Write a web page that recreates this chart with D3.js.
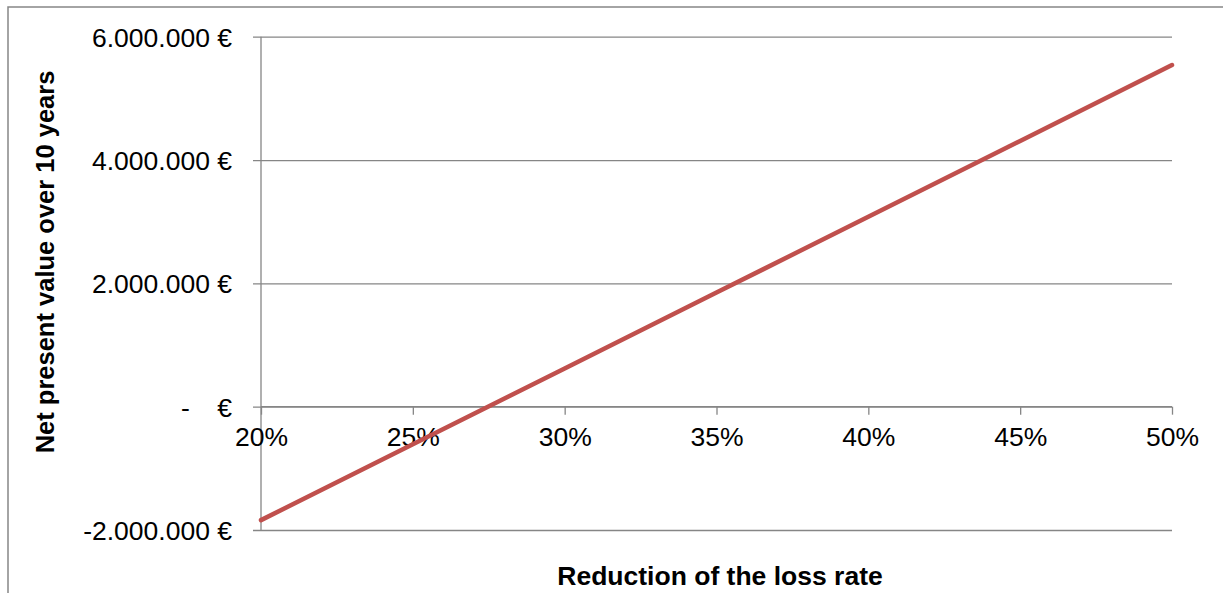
<!DOCTYPE html>
<html>
<head>
<meta charset="utf-8">
<script src="https://cdn.jsdelivr.net/npm/d3@7/dist/d3.min.js"></script>
<style>
  html, body { margin: 0; padding: 0; background: #fff; }
  svg { display: block; font-family: "Liberation Sans", Arial, sans-serif; }
</style>
</head>
<body>
<svg id="chart" width="1223" height="593"></svg>
<script>
// Reduction of the loss rate (share) and resulting net present value (EUR)
const reductionRates = [0.20, 0.25, 0.30, 0.35, 0.40, 0.45, 0.50];
const netPresentValues = [-1840000, -610000, 620000, 1850000, 3080000, 4310000, 5540000];

// Axis ticks
const yTickValues = [-2000000, 0, 2000000, 4000000, 6000000];
const xTickValues = [0.20, 0.25, 0.30, 0.35, 0.40, 0.45, 0.50];

const xTitle = "Reduction of the loss rate";
const yTitle = "Net present value over 10 years";

const svg = d3.select("#chart");
const W = 1223, H = 593;
const plot = { left: 261, right: 1172, top: 36.7, bottom: 530 };
const gridColor = "#868686";
const lineColor = "#C0504D";
const labelSize = 26.5;

const x = d3.scaleLinear().domain([0.20, 0.50]).range([plot.left, plot.right]);
const y = d3.scaleLinear().domain([-2000000, 6000000]).range([plot.bottom, plot.top]);

// Chart frame
svg.append("rect")
  .attr("x", 8).attr("y", 7)
  .attr("width", W + 20).attr("height", H + 20)
  .attr("fill", "#fff")
  .attr("stroke", gridColor).attr("stroke-width", 1.5);

// Accounting style: 6.000.000 €, zero shown as a dash
const euro = v => {
  if (v === 0) return "-   \u2009€";
  const s = d3.format(",")(Math.abs(v)).replace(/,/g, ".");
  return (v < 0 ? "-" : "") + s + " €";
};

// Horizontal gridlines and value axis
const yAxis = d3.axisLeft(y)
  .tickValues(yTickValues)
  .tickSize(-(plot.right - plot.left))
  .tickPadding(29)
  .tickFormat(euro);

const gy = svg.append("g")
  .attr("transform", `translate(${plot.left},0)`)
  .call(yAxis);
gy.select(".domain").attr("stroke", gridColor).attr("stroke-width", 1.3)
  .attr("d", `M0,${plot.top}V${plot.bottom}`);
gy.selectAll(".tick line")
  .attr("stroke", gridColor).attr("stroke-width", 1.3)
  .attr("x1", -8);
gy.selectAll(".tick text")
  .attr("fill", "#000")
  .attr("font-size", labelSize)
  .attr("font-family", "'Liberation Sans', Arial, sans-serif")
  .style("white-space", "pre")
  .attr("dy", "0.36em");

// Category axis through zero
const xAxis = d3.axisBottom(x)
  .tickValues(xTickValues)
  .tickSize(8)
  .tickPadding(13)
  .tickFormat(d3.format(".0%"));

const gx = svg.append("g")
  .attr("transform", `translate(0,${y(0)})`)
  .call(xAxis);
gx.select(".domain").attr("stroke", gridColor).attr("stroke-width", 1.3)
  .attr("d", `M${plot.left},0H${plot.right}`);
gx.selectAll(".tick line").attr("stroke", gridColor).attr("stroke-width", 1.3);
gx.selectAll(".tick text")
  .attr("fill", "#000")
  .attr("font-size", labelSize)
  .attr("font-family", "'Liberation Sans', Arial, sans-serif");

// NPV line
const line = d3.line()
  .x((d, i) => x(reductionRates[i]))
  .y(d => y(d));

svg.append("path")
  .datum(netPresentValues)
  .attr("d", line)
  .attr("fill", "none")
  .attr("stroke", lineColor)
  .attr("stroke-width", 4.5)
  .attr("stroke-linecap", "round")
  .attr("stroke-linejoin", "round");

// Axis titles
svg.append("text")
  .attr("x", 720).attr("y", 585)
  .attr("text-anchor", "middle")
  .attr("font-size", 26.5)
  .attr("font-weight", "bold")
  .text(xTitle);

svg.append("text")
  .attr("transform", `translate(54,262) rotate(-90)`)
  .attr("text-anchor", "middle")
  .attr("font-size", 25.5)
  .attr("font-weight", "bold")
  .text(yTitle);
</script>
</body>
</html>
